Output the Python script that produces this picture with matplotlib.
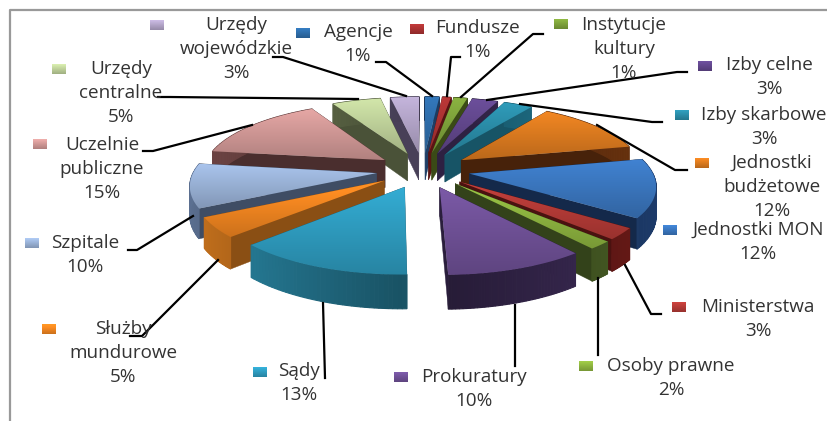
# Wykres kolowy 3D - struktura jednostek
import numpy as np
import matplotlib
matplotlib.use('Agg')
import matplotlib.pyplot as plt
from matplotlib.colors import to_rgb
from matplotlib.patches import Polygon

# Dane
labels = ['Agencje', 'Fundusze', 'Instytucje\nkultury', 'Izby celne', 'Izby skarbowe',
          'Jednostki\nbudżetowe', 'Jednostki MON', 'Ministerstwa', 'Osoby prawne',
          'Prokuratury', 'Sądy', 'Służby\nmundurowe', 'Szpitale', 'Uczelnie\npubliczne',
          'Urzędy\ncentralne', 'Urzędy\nwojewódzkie']
percents = [1, 1, 1, 3, 3, 12, 12, 3, 2, 10, 13, 5, 10, 15, 5, 3]
# Udzialy (przed zaokragleniem)
shares = [1.5, 0.9, 1.4, 2.7, 3.0, 12.1, 13.3, 2.6, 1.8, 10.3, 13.1, 4.5, 10.0, 14.7, 5.1, 3.0]

# Kolori
top_colors = ['#2E6CA8', '#A83232', '#7CA03A', '#60468A', '#2A8BA6', '#D9791F', '#3A75BC', '#B23A36',
              '#8CB23F', '#6E5095', '#2E9ABD', '#EE8420', '#97AFD3', '#CE9694', '#BCCE98', '#B0A2C5']
side_colors = ['#1F3F66', '#5A1414', '#3A4A16', '#2E2142', '#175466', '#47220A', '#14294A', '#4A1210',
               '#33421A', '#2A1E3C', '#1C5C70', '#8A4F14', '#3F4D64', '#4A2E2E', '#4A5238', '#484058']

# Posizioni etichette: (x centro, y prima riga)
label_pos = [(358, 33), (478, 29), (624, 26), (769, 66), (764, 116), (772, 164), (758, 231), (758, 308),
             (671, 367), (474, 378), (299, 372), (123, 330), (85, 244), (102, 146), (121, 70), (236, 26)]
key_pos = [(303, 33), (417, 29), (561, 24), (705, 66), (682, 115), (702, 163), (670, 230), (679, 307),
           (586, 366), (401, 377), (260, 372), (49, 329), (32, 243), (40, 144), (59, 69), (157, 25)]
leaders = [[(376, 62), (386, 62), (432, 96)],
           [(460, 57), (451, 57), (447, 96)],
           [(543, 34), (533, 34), (461, 97)],
           [(687, 72), (677, 72), (487, 100)],
           [(662, 122), (652, 122), (520, 104)],
           [(687, 170), (675, 170), (597, 125)],
           [(661, 314), (651, 314), (625, 265)],
           [(598, 355), (598, 278)],
           [(515, 366), (515, 305)],
           [(325, 378), (323, 303)],
           [(130, 336), (142, 336), (218, 260)],
           [(128, 250), (137, 250), (193, 216)],
           [(143, 151), (153, 151), (252, 125)],
           [(158, 97), (170, 97), (358, 99)],
           [(273, 57), (283, 57), (406, 96)]]

# Proiezione della torta
cx, cy = 423, 170
scale_x, scale_y = 235, 89
persp = 0.19
depth = 28
radius, explode = 0.775, 0.2


def project(x, y, z=0.0):
    s = 1 / (1 + persp * y)
    return cx + scale_x * x * s, cy - scale_y * y * s + depth * z * s


def shade(color, f):
    return tuple(min(1, c * f) for c in to_rgb(color))


def gradient_fill(ax, pts, color, z, light=1.12, dark=0.86):
    pts = np.array(pts)
    grad = np.linspace(light, dark, 64)[:, None, None] * np.array(to_rgb(color))[None, None, :]
    im = ax.imshow(np.clip(grad, 0, 1), extent=(pts[:, 0].min(), pts[:, 0].max(), pts[:, 1].max(), pts[:, 1].min()),
                   aspect='auto', zorder=z, interpolation='bilinear')
    clip = Polygon(pts, closed=True, transform=ax.transData)
    im.set_clip_path(clip)


fig = plt.figure(figsize=(8.28, 4.21), dpi=100)
ax = fig.add_axes([0, 0, 1, 1])

angles = np.array(shares) / sum(shares) * 2 * np.pi
ends = np.cumsum(angles)
starts = ends - angles
mids = (starts + ends) / 2

# Dal fondo verso davanti
order = np.argsort(-np.cos(mids))
z = 2
for i in order:
    ox, oy = explode * np.sin(mids[i]), explode * np.cos(mids[i])
    t = np.linspace(starts[i], ends[i], 40)
    arc = [(ox + radius * np.sin(a), oy + radius * np.cos(a)) for a in t]
    top = [project(ox, oy)] + [project(*p) for p in arc]

    # facce radiali
    for p in (arc[0], arc[-1]):
        face = [project(ox, oy), project(*p), project(*p, 1), project(ox, oy, 1)]
        ax.fill(*zip(*face), color=side_colors[i], zorder=z, lw=0.3)
    z += 1
    # bordo esterno
    for k in range(len(arc) - 1):
        p, q = arc[k], arc[k + 1]
        face = [project(*p), project(*q), project(*q, 1), project(*p, 1)]
        f = 0.9 + 0.55 * abs(np.sin(t[k]))
        ax.fill(*zip(*face), color=shade(side_colors[i], f), zorder=z, lw=0.8)
    z += 1
    gradient_fill(ax, top, top_colors[i], z)
    z += 1

# Linee guida
for line in leaders:
    xs, ys = zip(*line)
    ax.plot(xs, ys, color='black', lw=1.6, zorder=z, solid_joinstyle='round')
z += 1

# Etichette e chiavi
for i, name in enumerate(labels):
    x, y = label_pos[i]
    ax.text(x, y - 10, name + '\n' + str(percents[i]) + '%', ha='center', va='top', fontsize=13.6,
            family='Open Sans', color='#333333', linespacing=1.42, zorder=z)
    kx, ky = key_pos[i]
    gradient_fill(ax, [(kx - 7, ky - 5.5), (kx + 7, ky - 5.5), (kx + 7, ky + 5.5), (kx - 7, ky + 5.5)],
                  top_colors[i], z, light=1.2, dark=0.85)

# Cornice
ax.plot([10, 10, 828], [421, 10, 10], color='#999999', lw=1.6, zorder=z)

ax.set_xlim(0, 828)
ax.set_ylim(421, 0)
ax.axis('off')
fig.savefig('out.png', dpi=100)
